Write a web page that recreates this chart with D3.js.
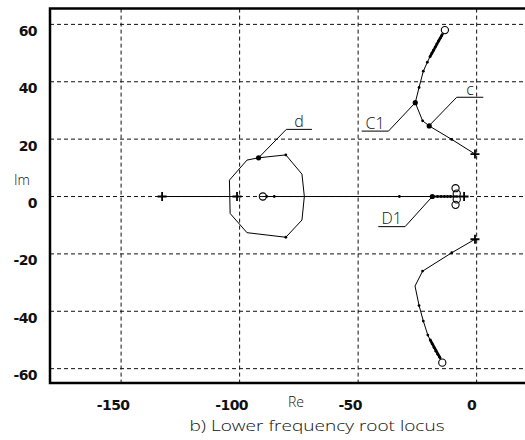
<!DOCTYPE html>
<html>
<head>
<meta charset="utf-8">
<script src="https://cdn.jsdelivr.net/npm/d3@7"></script>
<style>
  body { margin: 0; background: #fff; }
  svg { display: block; }
  .tick-label { font-family: "DejaVu Sans", sans-serif; font-weight: bold; font-size: 14px; letter-spacing: -0.6px; fill: #111; }
  .thin { font-family: "Open Sans", "DejaVu Sans", sans-serif; font-weight: 300; fill: #111; }
</style>
</head>
<body>
<svg width="525" height="440"></svg>
<script>
// ticks
var xTicks = [-150, -100, -50, 0];
var yTicks = [-60, -40, -20, 0, 20, 40, 60];

// upper complex branch (pole at right -> zero at top)
var upperBranch = [[-0.7, 14.8], [-10.5, 19.9], [-20, 24.6], [-22.8, 26.4], [-25.9, 32.7],
  [-24.3, 38], [-22.5, 43.7], [-20.8, 46.8], [-19.7, 48.7], [-18.5, 50.6], [-17.3, 52.4],
  [-16.2, 54.1], [-15.2, 55.6], [-14.3, 56.8]];
var upperDots = [[-10.5, 19.9], [-22.8, 26.4], [-24.3, 38], [-22.5, 43.7], [-20.8, 46.8],
  [-19.7, 48.7], [-18.9, 50], [-18.2, 51], [-17.5, 52.1], [-16.8, 53.2], [-16.1, 54.2], [-15.4, 55.2], [-14.8, 56]];
var upperBig = [[-20, 24.6], [-25.9, 32.7]];
var upperThick = [[-19.7, 48.7], [-14.3, 56.8]];

// lower complex branch
var lowerBranch = [[-0.7, -14.9], [-10.5, -19.6], [-22.8, -26], [-26, -31.2], [-24.3, -38],
  [-22.5, -43.4], [-20.6, -48.3], [-19.4, -50.4], [-18.2, -52.4], [-17, -54.3], [-15.9, -55.8], [-15.2, -56.6]];
var lowerDots = [[-10.5, -19.6], [-22.8, -26], [-24.3, -38], [-22.5, -43.4], [-20.6, -48.3],
  [-19.6, -50], [-18.8, -51.3], [-18, -52.6], [-17.2, -53.9], [-16.4, -55], [-15.7, -55.9]];
var lowerThick = [[-19.6, -50], [-15.2, -56.6]];

// real axis
var realSeg1 = [[-132.7, 0], [-101.1, 0]];
var realSeg2 = [[-90.2, 0], [-5.3, 0]];
var realThick = [[-18.7, 0], [-9, 0]];
var realDots = [[-88.6, 0], [-85.4, 0], [-32.6, 0], [-16.5, 0], [-15, 0], [-13.6, 0], [-12.3, 0], [-11, 0]];
var realBig = [[-18.7, 0]];

// closed loop around the left zero
var loopPts = [[-96.9, 12.7], [-92, 13.5], [-80.5, 14.5], [-73.7, 7.8], [-72.7, 0], [-73.7, -8.2],
  [-80.5, -14.2], [-96.9, -12.6], [-104, -5.9], [-104.3, 5.7]];
var loopDots = [[-80.5, 14.5], [-80.5, -14.2]];
var loopBig = [[-92, 13.5]];

// poles (+) and zeros (o)
var poles = [[-132.7, 0], [-101.1, 0], [-0.7, 14.8], [-0.7, -14.9], [-5.3, 0]];
var zeros = [[-13.4, 58], [-14.5, -57.9], [-90.2, 0], [-8.9, 2.9], [-8.4, 1], [-8.4, -1], [-8.9, -2.9]];

// annotations: anchor point, elbow, underline end, text
var notes = [
  {label: "d",  anchor: [-92, 13.5],   elbow: [-80.3, 23.4], end: -69.5},
  {label: "C1", anchor: [-25.9, 32.7], elbow: [-37.2, 22.8], end: -48.5},
  {label: "c",  anchor: [-19.3, 25.3], elbow: [-8.4, 34.6],  end: 2.8},
  {label: "D1", anchor: [-18.7, 0],    elbow: [-30.2, -10.5], end: -41.5}
];

var svg = d3.select("svg");
var x = d3.scaleLinear().domain([-180, 20.4]).range([50, 525]);
var y = d3.scaleLinear().domain([-65, 65.5]).range([383, 8.6]);
var line = d3.line().x(function(d) { return x(d[0]); }).y(function(d) { return y(d[1]); });

// grid
svg.append("g").selectAll("line").data(xTicks).enter().append("line")
  .attr("x1", function(d) { return x(d); }).attr("x2", function(d) { return x(d); })
  .attr("y1", y.range()[1]).attr("y2", y.range()[0])
  .attr("stroke", "#111").attr("stroke-dasharray", "4,3");
svg.append("g").selectAll("line").data(yTicks).enter().append("line")
  .attr("y1", function(d) { return y(d); }).attr("y2", function(d) { return y(d); })
  .attr("x1", x.range()[0]).attr("x2", x.range()[1])
  .attr("stroke", "#111").attr("stroke-dasharray", "4,3");

// frame (left, top, bottom)
svg.append("path")
  .attr("d", "M" + x.range()[1] + "," + y.range()[1] + "H" + x.range()[0] + "V" + y.range()[0] + "H" + x.range()[1])
  .attr("fill", "none").attr("stroke", "#000").attr("stroke-width", 2.5);

// tick labels
svg.append("g").selectAll("text").data(yTicks).enter().append("text")
  .attr("class", "tick-label")
  .attr("x", 37).attr("y", function(d) { return y(d) + 11.5; })
  .attr("text-anchor", "end")
  .text(function(d) { return d; });
svg.append("g").selectAll("text").data(xTicks).enter().append("text")
  .attr("class", "tick-label")
  .attr("x", function(d) { return x(d) - (d < 0 ? 8 : 5); }).attr("y", 410)
  .attr("text-anchor", "middle")
  .text(function(d) { return d; });

svg.append("text").attr("class", "thin").attr("x", 296).attr("y", 407)
  .attr("text-anchor", "middle").style("font-size", "14px").text("Re");
svg.append("text").attr("class", "thin").attr("x", 22).attr("y", 185)
  .attr("text-anchor", "middle").style("font-size", "14px").text("Im");
svg.append("text").attr("class", "thin").attr("x", 317).attr("y", 431)
  .attr("text-anchor", "middle").style("font-size", "15px")
  .attr("textLength", 255).attr("lengthAdjust", "spacingAndGlyphs")
  .text("b) Lower frequency root locus");

// loci
var loci = svg.append("g").attr("fill", "none").attr("stroke", "#000");
[upperBranch, lowerBranch, realSeg1, realSeg2].forEach(function(p) {
  loci.append("path").attr("d", line(p)).attr("stroke-width", 1);
});
loci.append("path").attr("d", line(loopPts) + "Z").attr("stroke-width", 1);
[upperThick, lowerThick].forEach(function(p) {
  loci.append("path").attr("d", line(p)).attr("stroke-width", 2.6);
});
loci.append("path").attr("d", line(realThick)).attr("stroke-width", 2);

// dots
var small = [].concat(upperDots, lowerDots, realDots, loopDots);
var big = [].concat(upperBig, realBig, loopBig);
svg.append("g").selectAll("circle").data(small).enter().append("circle")
  .attr("cx", function(d) { return x(d[0]); }).attr("cy", function(d) { return y(d[1]); })
  .attr("r", 1.4).attr("fill", "#000");
svg.append("g").selectAll("circle").data(big).enter().append("circle")
  .attr("cx", function(d) { return x(d[0]); }).attr("cy", function(d) { return y(d[1]); })
  .attr("r", 2.6).attr("fill", "#000");

// zeros
svg.append("g").selectAll("circle").data(zeros).enter().append("circle")
  .attr("cx", function(d) { return x(d[0]); }).attr("cy", function(d) { return y(d[1]); })
  .attr("r", 3.6).attr("fill", "none").attr("stroke", "#000").attr("stroke-width", 1.1);

// poles
svg.append("g").selectAll("path").data(poles).enter().append("path")
  .attr("d", function(d) {
    var px = x(d[0]), py = y(d[1]), s = 4.5;
    return "M" + (px - s) + "," + py + "H" + (px + s) + "M" + px + "," + (py - s) + "V" + (py + s);
  })
  .attr("stroke", "#000").attr("stroke-width", 1.8);

// annotations
var ann = svg.append("g");
notes.forEach(function(n) {
  var ex = x(n.elbow[0]), ey = y(n.elbow[1]), endx = x(n.end);
  ann.append("path")
    .attr("d", "M" + x(n.anchor[0]) + "," + y(n.anchor[1]) + "L" + ex + "," + ey + "H" + endx)
    .attr("fill", "none").attr("stroke", "#000").attr("stroke-width", 1);
  ann.append("text").attr("class", "thin")
    .attr("x", (ex + endx) / 2).attr("y", ey - 2.5)
    .attr("text-anchor", "middle").style("font-size", "16px")
    .text(n.label);
});
</script>
</body>
</html>
